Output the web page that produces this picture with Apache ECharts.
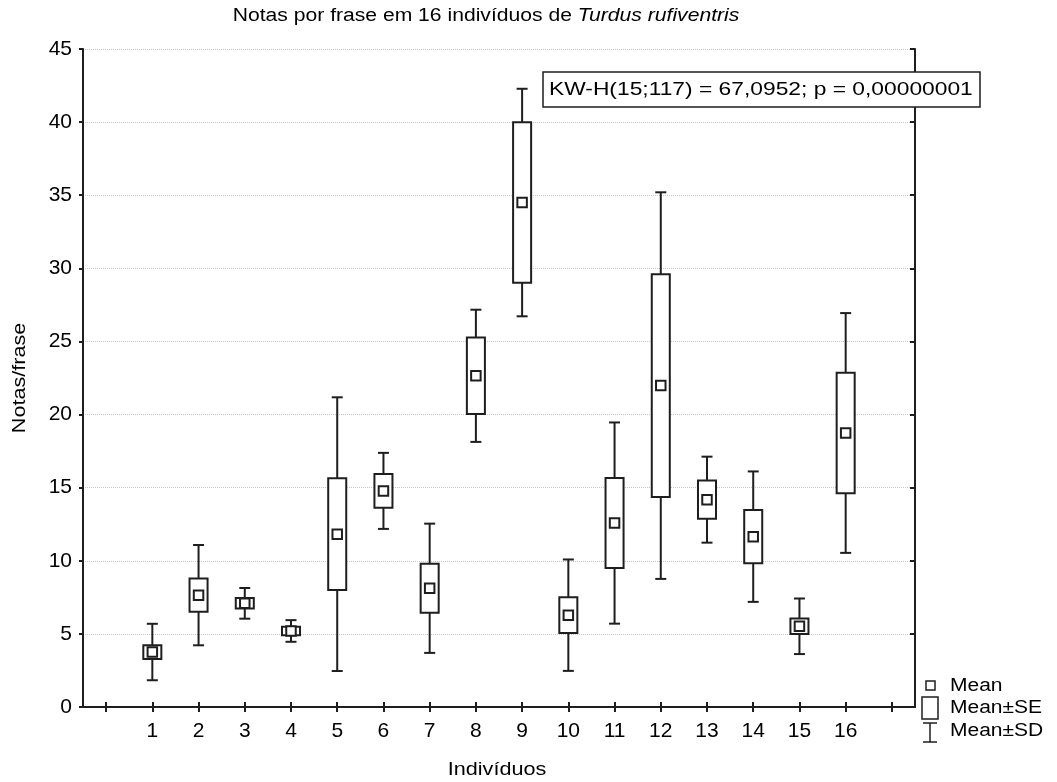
<!DOCTYPE html>
<html>
<head>
<meta charset="utf-8">
<script src="https://cdn.jsdelivr.net/npm/echarts@6/dist/echarts.min.js"></script>
<style>
html,body{margin:0;padding:0;background:#fff;}
#chart{width:1057px;height:782px;}
</style>
</head>
<body>
<div id="chart"></div>
<script>
// ---- data ----
var categories = ['', '1', '2', '3', '4', '5', '6', '7', '8', '9', '10', '11', '12', '13', '14', '15', '16', ''];
var means = [3.76, 7.65, 7.09, 5.20, 11.82, 14.78, 8.12, 22.65, 34.50, 6.28, 12.58, 21.98, 14.18, 11.65, 5.52, 18.74];
var seVals = [0.47, 1.13, 0.36, 0.29, 3.82, 1.15, 1.67, 2.62, 5.49, 1.22, 3.08, 7.62, 1.31, 1.82, 0.53, 4.12];
var sdVals = [1.93, 3.43, 1.05, 0.74, 9.36, 2.60, 4.42, 4.52, 7.78, 3.81, 6.88, 13.22, 2.94, 4.46, 1.90, 8.20];
var yTicks = {min: 0, max: 45, interval: 5};
var titleMain = 'Notas por frase em 16 indivíduos de ';
var titleItalic = 'Turdus rufiventris';
var statText = 'KW-H(15;117) = 67,0952; p = 0,00000001';
var legendLabels = ['Mean', 'Mean\u00B1SE', 'Mean\u00B1SD'];
var yName = 'Notas/frase';
var xName = 'Indivíduos';

var seriesData = means.map(function (m, i) { return [i + 1, m, seVals[i], sdVals[i]]; });

var INK = '#1e1e1e';
var FONT = 'Liberation Sans, Arial, sans-serif';
var SX = 1.2;

function renderItem(params, api) {
  var x = api.value(0), m = api.value(1), se = api.value(2), sd = api.value(3);
  var band = api.size([1, 0])[0];
  var c = api.coord([x, m]);
  var pTop = api.coord([x, m + sd]);
  var pBot = api.coord([x, m - sd]);
  var sTop = api.coord([x, m + se]);
  var sBot = api.coord([x, m - se]);
  var bw = band * 0.39;
  var cap = 11;
  var ms = 9.5;
  var ls = {stroke: INK, lineWidth: 2, fill: null};
  return {
    type: 'group',
    children: [
      {type: 'line', shape: {x1: c[0], y1: pTop[1], x2: c[0], y2: pBot[1]}, style: ls},
      {type: 'line', shape: {x1: c[0] - cap / 2, y1: pTop[1], x2: c[0] + cap / 2, y2: pTop[1]}, style: ls},
      {type: 'line', shape: {x1: c[0] - cap / 2, y1: pBot[1], x2: c[0] + cap / 2, y2: pBot[1]}, style: ls},
      {type: 'rect', shape: {x: c[0] - bw / 2, y: sTop[1], width: bw, height: sBot[1] - sTop[1]},
        style: {stroke: INK, lineWidth: 2, fill: '#fff'}},
      {type: 'rect', shape: {x: c[0] - ms / 2, y: c[1] - ms / 2, width: ms, height: ms},
        style: {stroke: INK, lineWidth: 2, fill: '#fff'}}
    ]
  };
}

var axisLineStyle = {color: INK, width: 2};

var option = {
  animation: false,
  backgroundColor: '#fff',
  grid: {left: 83, right: 142, top: 49, bottom: 75, containLabel: false},
  xAxis: [
    {
      type: 'category', data: categories, position: 'bottom', boundaryGap: true,
      axisLine: {show: true, lineStyle: axisLineStyle},
      axisTick: {show: true, inside: true, alignWithLabel: true, interval: 0, length: 5, lineStyle: axisLineStyle},
      axisLabel: {show: true, interval: 0, fontSize: 21, fontFamily: FONT, color: '#000', margin: 14},
      splitLine: {show: false}
    },
    {
      type: 'category', data: categories, position: 'top', boundaryGap: true,
      axisLine: {show: true, lineStyle: axisLineStyle},
      axisTick: {show: true, inside: true, alignWithLabel: true, interval: 0, length: 5, lineStyle: axisLineStyle},
      axisLabel: {show: false},
      splitLine: {show: false}
    }
  ],
  yAxis: [
    {
      type: 'value', position: 'left', min: yTicks.min, max: yTicks.max, interval: yTicks.interval,
      axisLine: {show: true, lineStyle: axisLineStyle},
      axisTick: {show: true, inside: false, length: 4, lineStyle: axisLineStyle},
      axisLabel: {show: true, fontSize: 21, fontFamily: FONT, color: '#000', margin: 11},
      splitLine: {show: true, lineStyle: {color: '#c8c8c8', type: 'dotted', width: 1}}
    },
    {
      type: 'value', position: 'right', min: yTicks.min, max: yTicks.max, interval: yTicks.interval,
      axisLine: {show: true, lineStyle: axisLineStyle},
      axisTick: {show: true, inside: true, length: 5, lineStyle: axisLineStyle},
      axisLabel: {show: false},
      splitLine: {show: false}
    }
  ],
  series: [{
    type: 'custom', xAxisIndex: 0, yAxisIndex: 0,
    renderItem: renderItem, data: seriesData, clip: false,
    encode: {x: 0, y: 1}
  }],
  graphic: [
    // title
    {type: 'text', x: 486, y: 16, scaleX: SX, silent: true,
      style: {text: '{n|' + titleMain + '}{i|' + titleItalic + '}', align: 'center', verticalAlign: 'middle',
        rich: {n: {fontSize: 17.6, fontFamily: FONT, fill: '#000'}, i: {fontSize: 17.6, fontFamily: FONT, fontStyle: 'italic', fill: '#000'}}}},
    // stat box
    {type: 'rect', shape: {x: 543, y: 72, width: 437, height: 35}, style: {fill: '#fff', stroke: INK, lineWidth: 1.5}, z: 50},
    {type: 'text', x: 549, y: 90, scaleX: SX, z: 51,
      style: {text: statText, fontSize: 19, fontFamily: FONT, fill: '#000', align: 'left', verticalAlign: 'middle'}},
    // axis names
    {type: 'text', x: 20, y: 378, rotation: Math.PI / 2, scaleX: SX,
      style: {text: yName, fontSize: 18, fontFamily: FONT, fill: '#000', align: 'center', verticalAlign: 'middle'}},
    {type: 'text', x: 497, y: 770, scaleX: SX,
      style: {text: xName, fontSize: 18, fontFamily: FONT, fill: '#000', align: 'center', verticalAlign: 'middle'}},
    // legend
    {type: 'rect', shape: {x: 926, y: 681, width: 9, height: 9}, style: {fill: '#fff', stroke: INK, lineWidth: 1.5}},
    {type: 'rect', shape: {x: 922, y: 697, width: 16, height: 22}, style: {fill: '#fff', stroke: INK, lineWidth: 1.5}},
    {type: 'line', shape: {x1: 930, y1: 723, x2: 930, y2: 742}, style: {stroke: INK, lineWidth: 1.5}},
    {type: 'line', shape: {x1: 923, y1: 723, x2: 937, y2: 723}, style: {stroke: INK, lineWidth: 1.5}},
    {type: 'line', shape: {x1: 923, y1: 742, x2: 937, y2: 742}, style: {stroke: INK, lineWidth: 1.5}},
    {type: 'text', x: 950, y: 686, scaleX: SX, style: {text: legendLabels[0], fontSize: 17.5, fontFamily: FONT, fill: '#000', align: 'left', verticalAlign: 'middle'}},
    {type: 'text', x: 950, y: 708, scaleX: SX, style: {text: legendLabels[1], fontSize: 17.5, fontFamily: FONT, fill: '#000', align: 'left', verticalAlign: 'middle'}},
    {type: 'text', x: 950, y: 731, scaleX: SX, style: {text: legendLabels[2], fontSize: 17.5, fontFamily: FONT, fill: '#000', align: 'left', verticalAlign: 'middle'}}
  ]
};

var chart = echarts.init(document.getElementById('chart'), null, {renderer: 'canvas'});
chart.setOption(option);
</script>
</body>
</html>
